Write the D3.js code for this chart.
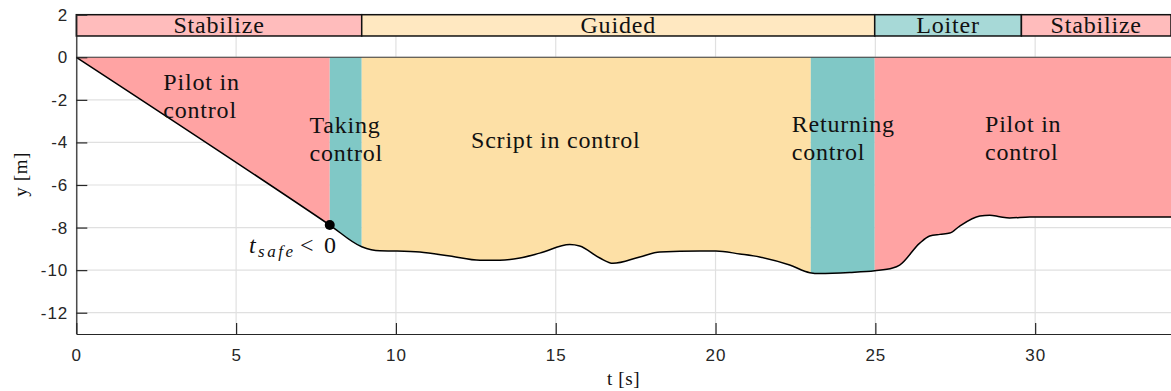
<!DOCTYPE html>
<html>
<head>
<meta charset="utf-8">
<script src="https://cdn.jsdelivr.net/npm/d3@7"></script>
<style>
  html, body { margin: 0; padding: 0; background: #fff; }
  svg { display: block; }
  .serif { font-family: "Liberation Serif", "Times New Roman", serif; fill: #111; }
  .big { font-size: 24px; letter-spacing: 0.8px; }
  .tick text { font-family: "Liberation Sans", Arial, sans-serif; font-size: 17px; letter-spacing: 1px; fill: #262626; }
</style>
</head>
<body>
<svg id="chart" width="1171" height="391"></svg>
<script>
// Vertical position of the vehicle over time
const tData = [0, 7.93, 8.93, 9.5, 10.0, 10.75, 11.69, 12.63, 13.25, 13.88, 14.5, 15.44, 15.75,
  16.38, 16.79, 17.63, 18.26, 19.51, 20.01, 20.76, 21.38, 22.32, 22.95, 23.26, 24.2, 24.98,
  25.54, 25.76, 26.39, 26.7, 27.02, 27.33, 27.64, 28.27, 28.58, 28.89, 29.2, 29.83, 34.25];
const yData = [0, -7.88, -8.90, -9.09, -9.10, -9.15, -9.34, -9.54, -9.53, -9.43, -9.20, -8.80, -8.87,
  -9.43, -9.68, -9.38, -9.15, -9.10, -9.10, -9.24, -9.38, -9.76, -10.12, -10.16, -10.11, -10.03,
  -9.90, -9.76, -8.73, -8.40, -8.32, -8.26, -7.93, -7.46, -7.42, -7.49, -7.55, -7.50, -7.50];

// Who is in control, per time span
const controlKind = ["pilot", "handover", "script", "handover", "pilot"];
const controlStart = [0, 7.93, 8.93, 22.98, 24.98];
const controlEnd = [7.93, 8.93, 22.98, 24.98, 34.25];

// Flight modes shown in the strip above the plot
const modeNames = ["Stabilize", "Guided", "Loiter", "Stabilize"];
const modeKind = ["pilot", "script", "handover", "pilot"];
const modeStart = [0, 8.93, 24.98, 29.57];
const modeEnd = [8.93, 24.98, 29.57, 34.25];

// Moment where the safe time runs out
const safePointT = 7.93;
const safePointY = -7.88;

const xTicks = [0, 5, 10, 15, 20, 25, 30];
const yTicks = [-12, -10, -8, -6, -4, -2, 0, 2];

const fillColor = { pilot: "#ffa3a3", handover: "#80c8c6", script: "#fde0a6" };
const stripColor = { pilot: "#ffbcbc", handover: "#a7d9d7", script: "#ffe8c1" };

const svg = d3.select("#chart");
const mLeft = 76.3, mRight = 1171, mTop = 14.7, mBottom = 334;

const x = d3.scaleLinear().domain([0, 34.25]).range([mLeft, mRight]);
const y = d3.scaleLinear().domain([-13, 2]).range([mBottom, mTop]);

const pts = tData.map((t, i) => [t, yData[i]]);

// grid
const grid = svg.append("g");
grid.selectAll("line.gx").data(xTicks).join("line")
  .attr("x1", d => x(d)).attr("x2", d => x(d))
  .attr("y1", y(-13)).attr("y2", y(1))
  .attr("stroke", "#e0e0e0").attr("stroke-width", 1.2);
grid.selectAll("line.gy").data(yTicks.filter(d => d < 1)).join("line")
  .attr("x1", mLeft).attr("x2", mRight)
  .attr("y1", d => y(d)).attr("y2", d => y(d))
  .attr("stroke", "#e0e0e0").attr("stroke-width", 1.2);

// filled regions between y = 0 and the trajectory, one clip per control span
const area = d3.area()
  .x(d => x(d[0]))
  .y0(y(0))
  .y1(d => y(d[1]))
  .curve(d3.curveMonotoneX);

const defs = svg.append("defs");
controlStart.forEach((t0, i) => {
  defs.append("clipPath").attr("id", "span" + i)
    .append("rect")
    .attr("x", x(t0)).attr("width", x(controlEnd[i]) - x(t0))
    .attr("y", y(2)).attr("height", y(-13) - y(2));
  svg.append("path")
    .datum(pts)
    .attr("d", area)
    .attr("fill", fillColor[controlKind[i]])
    .attr("clip-path", "url(#span" + i + ")");
});

// reference line at y = 0
svg.append("line")
  .attr("x1", mLeft).attr("x2", mRight)
  .attr("y1", y(0)).attr("y2", y(0))
  .attr("stroke", "#3a3a3a").attr("stroke-width", 1.2);

// trajectory
const line = d3.line()
  .x(d => x(d[0]))
  .y(d => y(d[1]))
  .curve(d3.curveMonotoneX);
svg.append("path").datum(pts)
  .attr("d", line)
  .attr("fill", "none")
  .attr("stroke", "#000")
  .attr("stroke-width", 1.5);

// mode strip
const strip = svg.append("g");
modeNames.forEach((name, i) => {
  strip.append("rect")
    .attr("x", x(modeStart[i])).attr("width", x(modeEnd[i]) - x(modeStart[i]))
    .attr("y", y(2)).attr("height", y(1) - y(2))
    .attr("fill", stripColor[modeKind[i]])
    .attr("stroke", "#111").attr("stroke-width", 1.5);
  strip.append("text").attr("class", "serif big")
    .attr("x", (x(modeStart[i]) + x(modeEnd[i])) / 2)
    .attr("y", 33.3)
    .attr("text-anchor", "middle")
    .text(name);
});

// axes
const fmt = d => String(d);
const xAxis = svg.append("g").attr("transform", `translate(0,${mBottom})`)
  .call(d3.axisBottom(x).tickValues(xTicks).tickFormat(fmt).tickSizeInner(-11).tickSizeOuter(0).tickPadding(15));
const yAxis = svg.append("g").attr("transform", `translate(${mLeft},0)`)
  .call(d3.axisLeft(y).tickValues(yTicks).tickFormat(fmt).tickSizeInner(-11).tickSizeOuter(0).tickPadding(8));
[xAxis, yAxis].forEach(a => {
  a.select(".domain").attr("stroke", "#262626").attr("stroke-width", 1.2);
  a.selectAll(".tick line").attr("stroke", "#262626").attr("stroke-width", 1.2);
});

// axis titles
svg.append("text").attr("class", "serif")
  .attr("x", (mLeft + mRight) / 2).attr("y", 385)
  .attr("text-anchor", "middle").attr("font-size", 19).attr("letter-spacing", 0.6)
  .text("t [s]");
svg.append("text").attr("class", "serif")
  .attr("transform", `translate(27,${(mTop + mBottom) / 2}) rotate(-90)`)
  .attr("text-anchor", "middle").attr("font-size", 19).attr("letter-spacing", 0.6)
  .text("y [m]");

// safe point marker
svg.append("circle")
  .attr("cx", x(safePointT)).attr("cy", y(safePointY))
  .attr("r", 5).attr("fill", "#000");

const safeLabel = svg.append("text").attr("class", "serif")
  .attr("y", 252.5).attr("font-size", 24);
safeLabel.append("tspan").attr("x", 249).attr("font-style", "italic").text("t");
safeLabel.append("tspan").attr("x", 258).attr("dy", 4.5).attr("font-style", "italic")
  .attr("font-size", 17).attr("textLength", 35).text("safe");
safeLabel.append("tspan").attr("x", 300).attr("dy", -4.5).text("<");
safeLabel.append("tspan").attr("x", 324).text("0");

// span annotations
const notes = [
  { lines: ["Pilot in", "control"], x: 163.3, y: 90 },
  { lines: ["Taking", "control"], x: 309.5, y: 133.3 },
  { lines: ["Script in control"], x: 471, y: 147.5 },
  { lines: ["Returning", "control"], x: 791.7, y: 131.7 },
  { lines: ["Pilot in", "control"], x: 985, y: 131.7 }
];
notes.forEach(n => {
  const t = svg.append("text").attr("class", "serif big")
    .attr("x", n.x).attr("y", n.y);
  n.lines.forEach((s, k) => {
    t.append("tspan").attr("x", n.x).attr("dy", k === 0 ? 0 : 28).text(s);
  });
});
</script>
</body>
</html>
